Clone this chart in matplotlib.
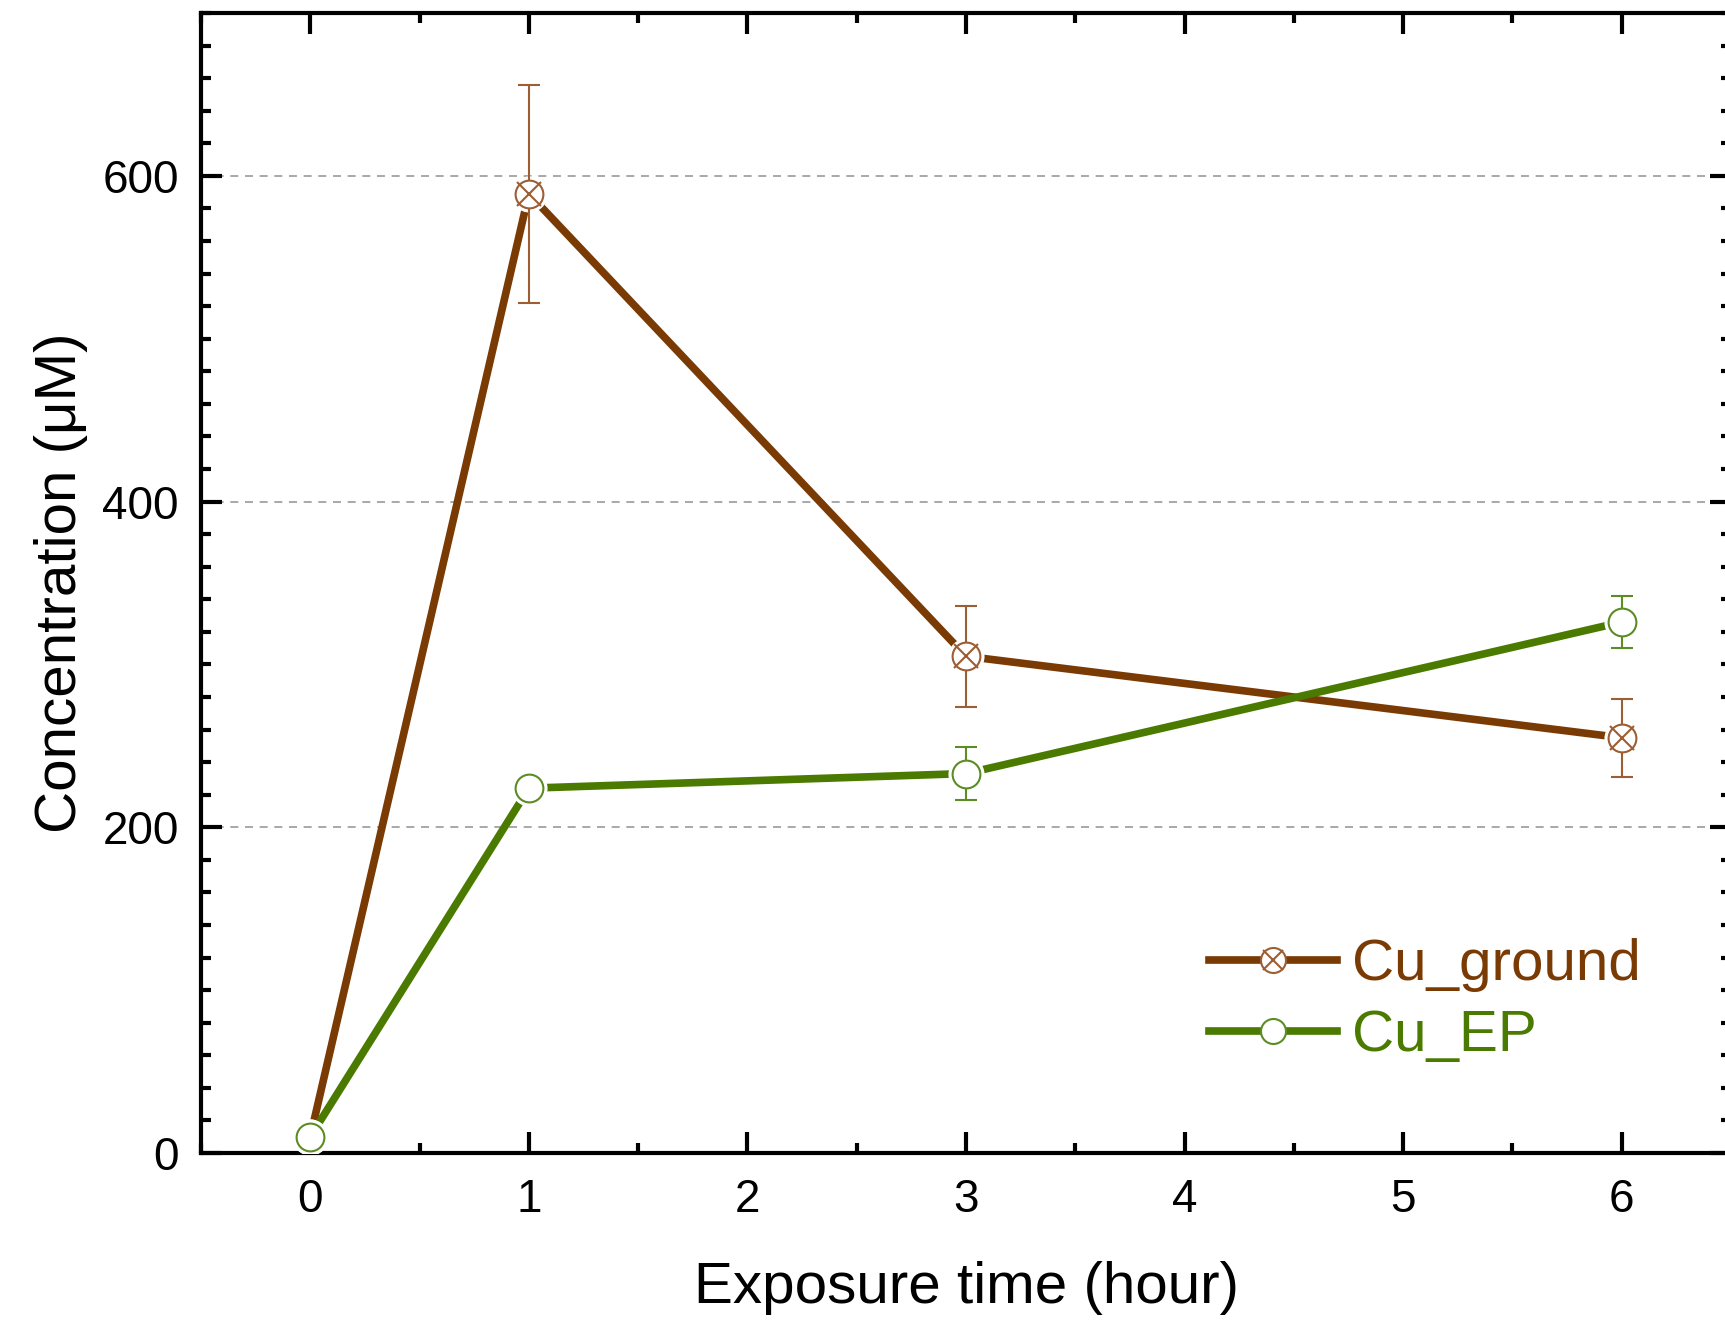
import matplotlib
matplotlib.use('Agg')
import matplotlib.pyplot as plt
from matplotlib.lines import Line2D
from matplotlib.legend_handler import HandlerTuple
from matplotlib.ticker import MultipleLocator

plt.rcParams['font.family'] = ['Liberation Sans', 'DejaVu Sans']

# data
hours = [0, 1, 3, 6]
ground = [10, 589, 305, 255]
ground_err = [2, 67, 31, 24]
ep = [10, 224, 233, 326]
ep_err = [1, 1, 16, 16]

brown_line = '#7A3A04'
brown_mark = '#9C5E32'
green_line = '#4A7A00'
green_mark = '#5C8C24'

fig = plt.figure(figsize=(17.25, 13.27), dpi=100)
ax = fig.add_axes([201 / 1725, 1 - 1153 / 1327, (1731 - 201) / 1725, (1153 - 13) / 1327])


def draw_series(y, err, lc, mc, z, cross):
    ax.plot(hours, y, color=lc, lw=5.5, zorder=z, solid_capstyle='butt')
    ax.plot(hours, y, ls='none', marker='o', ms=25, mfc='white', mec='white', zorder=z + 1)
    ax.errorbar(hours, y, yerr=err, fmt='none', ecolor=mc, elinewidth=1.5,
                capsize=8, capthick=1.5, zorder=z + 1.5)
    ax.plot(hours, y, ls='none', marker='o', ms=20, mfc='white', mec=mc, mew=1.5, zorder=z + 2)
    if cross:
        ax.plot(hours, y, ls='none', marker='x', ms=17, mec=mc, mew=1.5, zorder=z + 3)


draw_series(ground, ground_err, brown_line, brown_mark, 2, True)
draw_series(ep, ep_err, green_line, green_mark, 8, False)

ax.set_xlim(-0.5, 6.5)
ax.set_ylim(0, 700)
ax.xaxis.set_major_locator(MultipleLocator(1))
ax.xaxis.set_minor_locator(MultipleLocator(0.5))
ax.yaxis.set_major_locator(MultipleLocator(200))
ax.yaxis.set_minor_locator(MultipleLocator(20))
ax.tick_params(which='both', direction='in', top=True, right=True, width=3)
ax.tick_params(which='major', length=15, labelsize=33, pad=16)
ax.tick_params(axis='x', which='major', pad=18)
ax.tick_params(which='minor', length=7)
for s in ax.spines.values():
    s.set_linewidth(3)

ax.yaxis.grid(True, which='major', color='#9a9a9a', lw=1.2, dashes=(4.8, 4))
ax.set_axisbelow(True)

ax.set_xlabel('Exposure time (hour)', fontsize=42, labelpad=28)
ax.set_ylabel('Concentration (\u03bcM)', fontsize=42, labelpad=10)

h_ground = (Line2D([], [], color=brown_line, lw=5.5, marker='o', ms=18, mfc='white', mec=brown_mark, mew=1.5),
            Line2D([], [], ls='none', marker='x', ms=15, mec=brown_mark, mew=1.5))
h_ep = Line2D([], [], color=green_line, lw=5.5, marker='o', ms=18, mfc='white', mec=green_mark, mew=1.5)
leg = ax.legend([h_ground, h_ep], ['Cu_ground', 'Cu_EP'],
                handler_map={tuple: HandlerTuple(ndivide=1)},
                loc='upper left', bbox_to_anchor=(1209 / 1725, 1 - 938 / 1327),
                bbox_transform=fig.transFigure, frameon=False, fontsize=42,
                handlelength=2.2, handletextpad=0.25, labelspacing=0.3,
                borderpad=0, borderaxespad=0)
for txt, c in zip(leg.get_texts(), [brown_line, green_line]):
    txt.set_color(c)

fig.savefig('out.png', dpi=100)
